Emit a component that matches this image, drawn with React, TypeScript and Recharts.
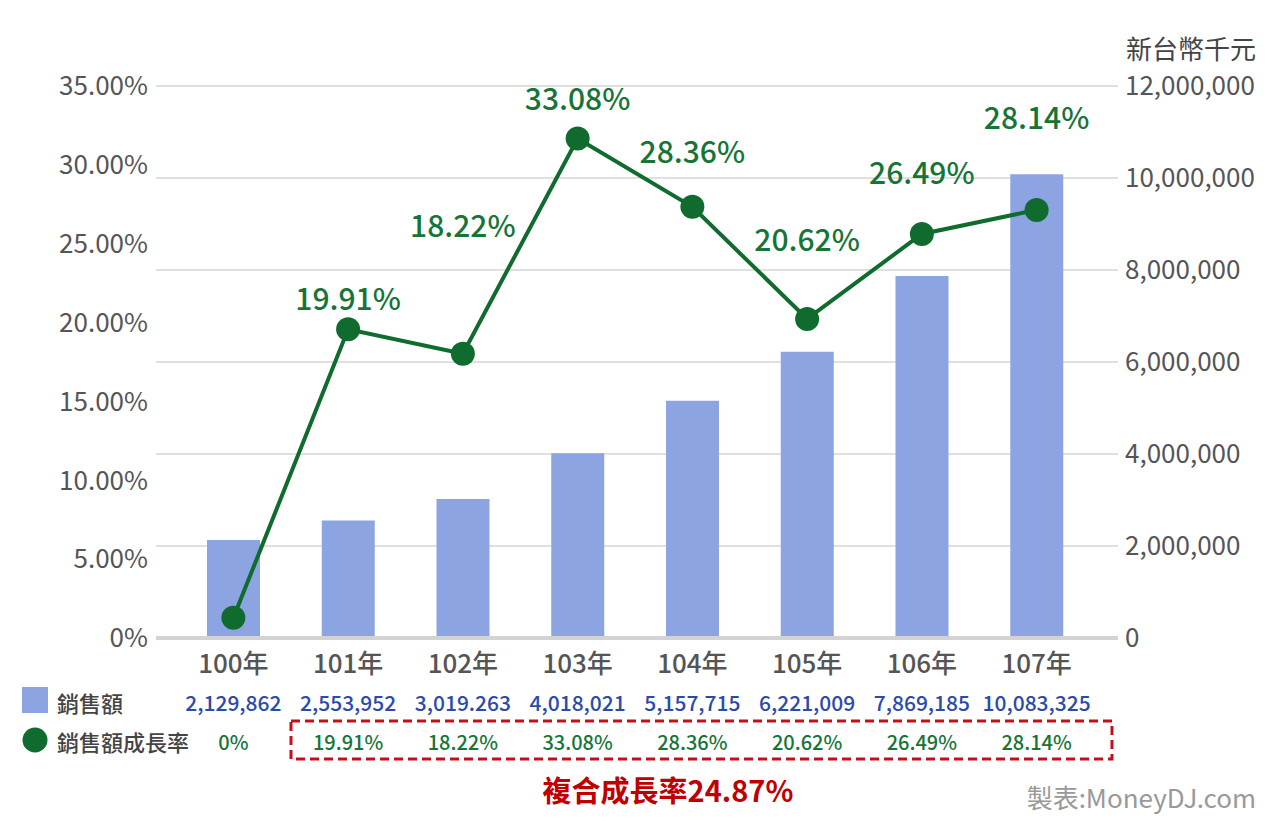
import {
  ComposedChart,
  Bar,
  Line,
  XAxis,
  YAxis,
  CartesianGrid,
  LabelList,
} from "recharts";

const years = ["100年", "101年", "102年", "103年", "104年", "105年", "106年", "107年"];
const sales = [2129862, 2553952, 3019263, 4018021, 5157715, 6221009, 7869185, 10083325];
const salesLabels = [
  "2,129,862",
  "2,553,952",
  "3,019.263",
  "4,018,021",
  "5,157,715",
  "6,221,009",
  "7,869,185",
  "10,083,325",
];
const growth = [0, 19.91, 18.22, 33.08, 28.36, 20.62, 26.49, 28.14];
const pctTicks = [0, 5, 10, 15, 20, 25, 30, 35];
const amountTicks = [0, 2000000, 4000000, 6000000, 8000000, 10000000, 12000000];

// label placement above each point (style only)
const labelLift = [0, -32, -130, -41, -57, -81, -63, -94];

const data = years.map((y, i) => ({ year: y, sales: sales[i], growth: growth[i] }));

const FONT = '"Noto Sans CJK TC", "Noto Sans", sans-serif';
const GREEN = "#106b2e";
const GREEN_TEXT = "#167536";
const BLUE_TEXT = "#2a4bab";

const pctFmt = (v: number) => (v === 0 ? "0%" : v.toFixed(2) + "%");

function YearTick(props: any) {
  const { x, y, payload } = props;
  const i = years.indexOf(payload.value);
  return (
    <g fontFamily={FONT}>
      <text x={x} y={y + 15} textAnchor="middle" dominantBaseline="central" fontSize={26} fontWeight={500} fill="#555">
        {payload.value}
      </text>
      <text x={x} y={y + 56} textAnchor="middle" dominantBaseline="central" fontSize={21} fontWeight={500} fill={BLUE_TEXT}>
        {salesLabels[i]}
      </text>
      <text x={x} y={y + 95} textAnchor="middle" dominantBaseline="central" fontSize={20} fontWeight={500} fill={GREEN_TEXT}>
        {pctFmt(growth[i])}
      </text>
    </g>
  );
}

function RateLabel(props: any) {
  const { x, y, index, value } = props;
  if (index === 0) return null;
  return (
    <text
      x={x}
      y={y + labelLift[index]}
      textAnchor="middle"
      dominantBaseline="central"
      fontSize={30}
      fontWeight={500}
      fontFamily={FONT}
      fill={GREEN_TEXT}
    >
      {pctFmt(value)}
    </text>
  );
}

export default function App() {
  return (
    <div style={{ position: "absolute", left: 0, top: 0, width: 1280, height: 823, fontFamily: FONT, background: "#fff" }}>
      <ComposedChart width={1280} height={823} data={data} margin={{ top: 86, right: 0, bottom: 0, left: 0 }}>
        <CartesianGrid vertical={false} yAxisId="amount" stroke="#d6d6d6" strokeWidth={1.5} />
        <XAxis
          dataKey="year"
          height={185}
          padding={{ left: 20, right: 24 }}
          axisLine={{ stroke: "#d3d3d3", strokeWidth: 4 }}
          tickLine={false}
          tick={<YearTick />}
          interval={0}
        />
        <YAxis
          yAxisId="pct"
          orientation="left"
          width={156}
          domain={[0, 35]}
          ticks={pctTicks}
          tickFormatter={pctFmt}
          axisLine={false}
          tickLine={false}
          tick={{ fontSize: 26, fill: "#555", fontFamily: FONT }}
        />
        <YAxis
          yAxisId="amount"
          orientation="right"
          width={162}
          domain={[0, 12000000]}
          ticks={amountTicks}
          tickMargin={1}
          tickFormatter={(v: number) => v.toLocaleString("en-US")}
          axisLine={false}
          tickLine={false}
          tick={{ fontSize: 26, fill: "#555", fontFamily: FONT }}
        />
        <YAxis yAxisId="rate" hide domain={[-1.4, 36.7]} allowDataOverflow />
        <Bar yAxisId="amount" dataKey="sales" fill="#8ca4e2" barSize={53} isAnimationActive={false} />
        {/* invisible series so the percentage axis is drawn */}
        <Line
          yAxisId="pct"
          dataKey="growth"
          stroke="transparent"
          dot={false}
          activeDot={false}
          legendType="none"
          isAnimationActive={false}
        />
        <Line
          yAxisId="rate"
          dataKey="growth"
          stroke={GREEN}
          strokeWidth={4}
          dot={{ r: 12, fill: GREEN, stroke: "none" }}
          activeDot={false}
          isAnimationActive={false}
        >
          <LabelList dataKey="growth" content={<RateLabel />} />
        </Line>
      </ComposedChart>

      <svg width={1280} height={823} style={{ position: "absolute", left: 0, top: 0, pointerEvents: "none" }}>
        <text x={1256} y={47} textAnchor="end" dominantBaseline="central" fontSize={26} fill="#444" fontFamily={FONT}>
          新台幣千元
        </text>
        <rect x={22} y={687} width={26} height={26} fill="#8ca4e2" />
        <text x={57} y={702} dominantBaseline="central" fontSize={22} fontWeight={500} fill="#444" fontFamily={FONT}>
          銷售額
        </text>
        <circle cx={35} cy={740} r={12.5} fill={GREEN} />
        <text x={57} y={741} dominantBaseline="central" fontSize={22} fontWeight={500} fill="#444" fontFamily={FONT}>
          銷售額成長率
        </text>
        <rect
          x={291}
          y={721}
          width={821}
          height={38}
          fill="none"
          stroke="#c0101a"
          strokeWidth={3}
          strokeDasharray="9 5"
        />
        <text x={668} y={789} textAnchor="middle" dominantBaseline="central" fontSize={29} fontWeight={700} fill="#c00000" fontFamily={FONT}>
          複合成長率24.87%
        </text>
        <text x={1256} y={796} textAnchor="end" dominantBaseline="central" fontSize={26} fill="#999" fontFamily={FONT}>
          製表:MoneyDJ.com
        </text>
      </svg>
    </div>
  );
}
